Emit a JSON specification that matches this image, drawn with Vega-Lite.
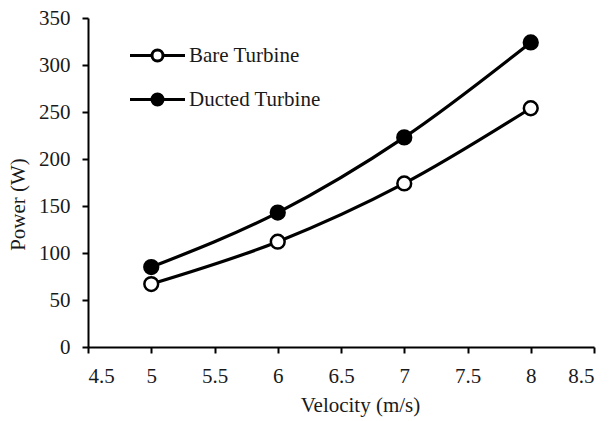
{
  "$schema": "https://vega.github.io/schema/vega-lite/v6.json",
  "width": 506,
  "height": 329,
  "autosize": {"type": "none"},
  "padding": {"left": 88, "top": 18, "right": 15, "bottom": 74},
  "background": "white",
  "config": {
    "view": {"stroke": null},
    "font": "Liberation Serif",
    "axis": {
      "grid": false,
      "domainColor": "black",
      "domainWidth": 2,
      "tickColor": "black",
      "tickWidth": 2,
      "tickSize": 6,
      "labelFont": "Liberation Serif",
      "labelFontSize": 21,
      "labelColor": "#1a1a1a",
      "titleFont": "Liberation Serif",
      "titleFontSize": 21,
      "titleFontWeight": "normal",
      "titleColor": "#1a1a1a"
    }
  },
  "data": {
    "values": [
      {"velocity": 5, "power": 67, "series": "Bare Turbine"},
      {"velocity": 6, "power": 112, "series": "Bare Turbine"},
      {"velocity": 7, "power": 174, "series": "Bare Turbine"},
      {"velocity": 8, "power": 254, "series": "Bare Turbine"},
      {"velocity": 5, "power": 85, "series": "Ducted Turbine"},
      {"velocity": 6, "power": 143, "series": "Ducted Turbine"},
      {"velocity": 7, "power": 223, "series": "Ducted Turbine"},
      {"velocity": 8, "power": 324, "series": "Ducted Turbine"}
    ]
  },
  "encoding": {
    "x": {
      "field": "velocity",
      "type": "quantitative",
      "scale": {"domain": [4.5, 8.5], "nice": false, "zero": false},
      "axis": {
        "title": "Velocity (m/s)",
        "values": [4.5, 5, 5.5, 6, 6.5, 7, 7.5, 8, 8.5],
        "format": "~g",
        "labelPadding": 12,
        "titlePadding": 8,
        "titleX": 272
      }
    },
    "y": {
      "field": "power",
      "type": "quantitative",
      "scale": {"domain": [0, 350], "nice": false},
      "axis": {
        "title": "Power (W)",
        "values": [0, 50, 100, 150, 200, 250, 300, 350],
        "labelPadding": 12,
        "titleX": -70,
        "titleY": 186,
        "titleBaseline": "middle"
      }
    }
  },
  "layer": [
    {
      "mark": {"type": "line", "interpolate": "monotone", "color": "black", "strokeWidth": 3.2},
      "encoding": {"detail": {"field": "series"}}
    },
    {
      "mark": {"type": "point", "filled": true, "size": 190, "stroke": "black", "strokeWidth": 2.5, "opacity": 1},
      "encoding": {
        "fill": {
          "field": "series",
          "type": "nominal",
          "scale": {"domain": ["Bare Turbine", "Ducted Turbine"], "range": ["white", "black"]},
          "legend": {
            "title": null,
            "orient": "none",
            "legendX": 59,
            "legendY": 27,
            "padding": 0,
            "symbolType": "M-5,0H-1M1,0H5M-1,0A1,1,0,1,1,1,0A1,1,0,1,1,-1,0Z",
            "symbolSize": 121,
            "symbolStrokeColor": "black",
            "symbolStrokeWidth": 3,
            "symbolOpacity": 1,
            "labelFont": "Liberation Serif",
            "labelFontSize": 21,
            "labelColor": "#1a1a1a",
            "labelOffset": 21,
            "rowPadding": 21
          }
        }
      }
    }
  ]
}
